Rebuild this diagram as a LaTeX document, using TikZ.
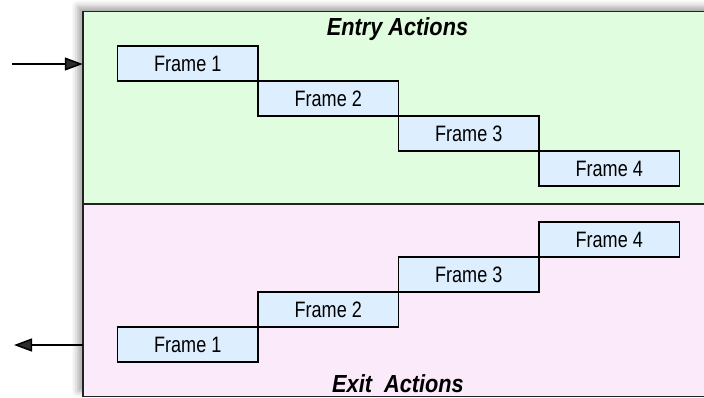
\documentclass[tikz,border=0pt]{standalone}
\usepackage{fontspec}
\setmainfont{Liberation Sans}
\newfontfamily\framefont[FakeStretch=0.81]{Liberation Sans}
\newfontfamily\titlefont[FakeStretch=0.88]{Liberation Sans}
\usetikzlibrary{positioning,arrows.meta,shadows.blur}
\pgfdeclarelayer{background}
\pgfsetlayers{background,main}
\definecolor{entrygreen}{RGB}{225,253,223}
\definecolor{exitpink}{RGB}{251,235,250}
\definecolor{frameblue}{RGB}{221,238,255}
\definecolor{edgegray}{RGB}{34,34,34}
\tikzset{
  region/.style={draw=edgegray, line width=1.5pt, inner sep=0pt, outer sep=0pt,
    minimum width=629.3pt, minimum height=192.5pt},
  stateshadow/.style={blur shadow={shadow xshift=-5pt, shadow yshift=5pt,
      shadow blur radius=6pt, shadow opacity=35}},
  framebox/.style={draw=black, line width=1.3pt, fill=frameblue,
    inner sep=0pt, outer sep=0pt, minimum width=140.5pt, minimum height=35pt,
    font=\framefont\fontsize{22.3}{26}\selectfont},
  title/.style={anchor=base, inner sep=0pt,
    font=\titlefont\bfseries\itshape\fontsize{24.7}{28}\selectfont},
  flow/.style={line width=1.5pt, -{Triangle[length=18pt,width=13pt]}}
}
\begin{document}
\begin{tikzpicture}[x=1pt,y=-1pt]
      \useasboundingbox (0,0) rectangle (704,397);
      % the two halves of the state
      \node[region, fill=exitpink] (exit) at (397.4,300.2) {};
      \node[region, fill=entrygreen, above=0pt of exit] (entry) {};
      \begin{pgfonlayer}{background}
        \fill[white, stateshadow] (entry.north west) rectangle (exit.south east);
      \end{pgfonlayer}
      \node[title] (entrytitle) at (397.5,35) {Entry Actions};
      \node[title] (exittitle) at (398,392) {Exit~~Actions};
      % entry frames, top down
      \node[framebox] (e1) at (187.75,63.5) {Frame 1};
      \node[framebox, below right=0pt of e1] (e2) {Frame 2};
      \node[framebox, below right=0pt of e2] (e3) {Frame 3};
      \node[framebox, below right=0pt of e3] (e4) {Frame 4};
      % exit frames, bottom up
      \node[framebox] (x1) at (187.75,344.5) {Frame 1};
      \node[framebox, above right=0pt of x1] (x2) {Frame 2};
      \node[framebox, above right=0pt of x2] (x3) {Frame 3};
      \node[framebox, above right=0pt of x3] (x4) {Frame 4};
      % transitions in and out
      \coordinate (in) at (12,64);
      \coordinate (out) at (14,345);
      \begin{scope}[flow]
        \draw (in) to (in -| entry.west);
        \draw (out -| exit.west) to (out);
      \end{scope}
    \end{tikzpicture}
\end{document}
